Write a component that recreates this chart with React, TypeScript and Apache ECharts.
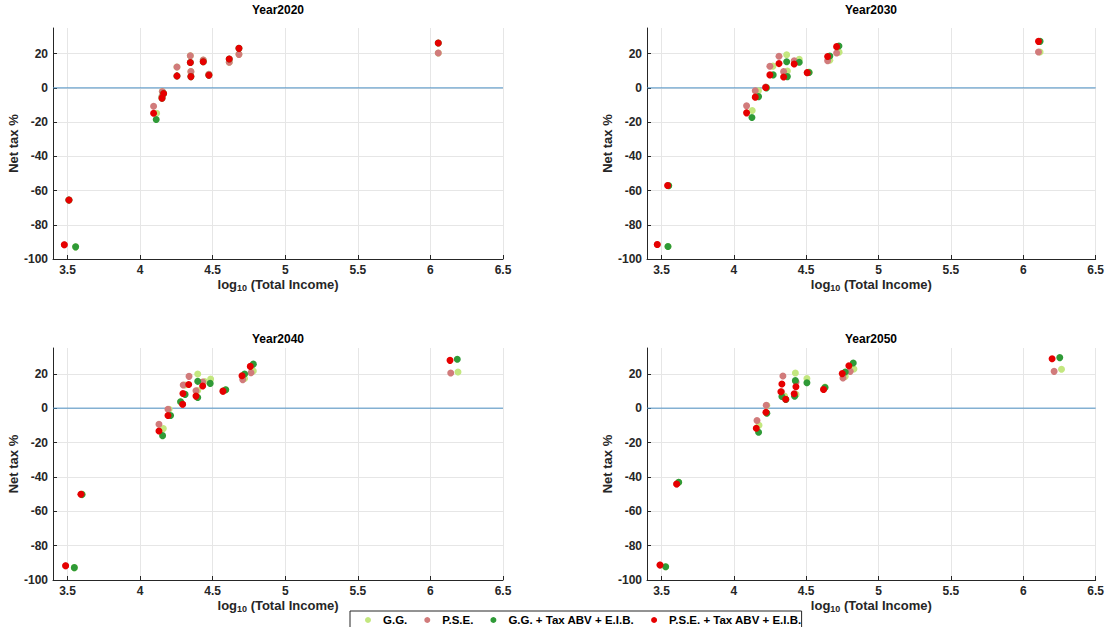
import { useEffect, useRef } from "react";
import * as echarts from "echarts";

const seriesNames = ["G.G.", "P.S.E.", "G.G. + Tax ABV + E.I.B.", "P.S.E. + Tax ABV + E.I.B."];
const seriesColors = ["#c3e77f", "#d17b7b", "#2f9a37", "#e60000"];
const yearTitles = ["Year2020", "Year2030", "Year2040", "Year2050"];
const xTickValues = [3.5, 4, 4.5, 5, 5.5, 6, 6.5];
const yTickValues = [-100, -80, -60, -40, -20, 0, 20];

// Year 2020
const gg2020 = [[3.556, -92.9], [3.51, -65.5], [4.114, -14.8], [4.151, -5], [4.153, -2.1], [4.254, 12.2], [4.346, 18.8], [4.35, 9.5], [4.435, 16.3], [4.474, 8], [4.614, 15], [4.681, 19.6], [6.054, 20.4]];
const pse2020 = [[3.478, -91.7], [3.51, -65.5], [4.093, -10.7], [4.151, -5], [4.153, -2.1], [4.254, 12.2], [4.346, 18.8], [4.35, 9.5], [4.435, 16.3], [4.474, 8], [4.614, 15], [4.681, 19.6], [6.054, 20.4]];
const ggt2020 = [[3.556, -92.9], [3.51, -65.5], [4.111, -18.5], [4.151, -6], [4.162, -3.3], [4.254, 7], [4.346, 14.8], [4.35, 6.6], [4.435, 15.3], [4.474, 7.4], [4.614, 16.9], [4.681, 23.1], [6.054, 26.2]];
const pset2020 = [[3.478, -91.7], [3.51, -65.5], [4.093, -14.8], [4.151, -6], [4.162, -3.3], [4.254, 7], [4.346, 14.8], [4.35, 6.6], [4.435, 15.3], [4.474, 7.4], [4.614, 16.9], [4.681, 23.1], [6.054, 26.2]];

// Year 2030
const gg2030 = [[3.545, -92.7], [3.55, -57], [4.127, -13.2], [4.17, -1.7], [4.225, 0.3], [4.27, 12.7], [4.365, 19.4], [4.37, 9.8], [4.452, 16.7], [4.52, 9.2], [4.663, 16.2], [4.727, 20.9], [6.116, 21]];
const pse2030 = [[3.471, -91.5], [3.543, -57], [4.088, -10.5], [4.148, -1.7], [4.22, 0.5], [4.249, 12.6], [4.312, 18.5], [4.344, 9.5], [4.417, 15.9], [4.507, 9], [4.648, 15.9], [4.71, 20.4], [6.105, 21]];
const ggt2030 = [[3.545, -92.7], [3.55, -57.2], [4.125, -17.3], [4.171, -5.1], [4.225, 0], [4.272, 7.6], [4.365, 15.3], [4.37, 6.6], [4.452, 15], [4.52, 9], [4.663, 18.6], [4.726, 24.5], [6.116, 27.2]];
const pset2030 = [[3.471, -91.5], [3.543, -57], [4.088, -14.6], [4.148, -5.4], [4.22, 0.2], [4.249, 7.6], [4.312, 14.2], [4.344, 6.4], [4.417, 14], [4.507, 8.9], [4.648, 18.3], [4.71, 24.1], [6.105, 27.2]];

// Year 2040
const gg2040 = [[3.547, -92.8], [3.6, -50], [4.16, -11.9], [4.2, -0.6], [4.279, 3.7], [4.31, 13.5], [4.397, 19.9], [4.397, 10.3], [4.445, 15.5], [4.486, 17], [4.59, 10.7], [4.72, 17.2], [4.78, 21.6], [6.19, 21]];
const pse2040 = [[3.487, -91.7], [3.593, -50.1], [4.13, -9.4], [4.192, -0.6], [4.293, 2.3], [4.297, 13.5], [4.337, 18.5], [4.385, 10.1], [4.431, 15.2], [4.571, 9.9], [4.707, 16.6], [4.764, 20.6], [6.14, 20.5]];
const ggt2040 = [[3.547, -92.8], [3.6, -50.3], [4.155, -16], [4.21, -4.3], [4.279, 3.7], [4.31, 8], [4.397, 15.6], [4.397, 6.2], [4.483, 14.4], [4.59, 10.7], [4.72, 19.9], [4.78, 25.6], [6.185, 28.5]];
const pset2040 = [[3.487, -91.7], [3.593, -50.1], [4.13, -13.3], [4.192, -4.3], [4.293, 2.3], [4.295, 8.5], [4.335, 13.8], [4.385, 7], [4.431, 12.9], [4.571, 9.9], [4.702, 18.9], [4.759, 24.3], [6.135, 27.8]];

// Year 2050
const gg2050 = [[3.529, -92.3], [3.619, -43.1], [4.174, -10], [4.228, 1.5], [4.35, 7], [4.425, 20.5], [4.43, 8], [4.505, 17.3], [4.63, 12.3], [4.77, 18.5], [4.83, 22.8], [6.264, 22.6]];
const pse2050 = [[3.49, -91.3], [3.605, -44.1], [4.16, -7.2], [4.224, 1.7], [4.339, 18.7], [4.33, 9.5], [4.43, 15.2], [4.62, 11], [4.754, 17.5], [4.804, 21.4], [6.213, 21.4]];
const ggt2050 = [[3.529, -92.3], [3.619, -43.1], [4.171, -14], [4.228, -2.9], [4.332, 6.8], [4.36, 5], [4.425, 16], [4.42, 6.9], [4.505, 14.8], [4.63, 12], [4.77, 21], [4.825, 26.3], [6.252, 29.4]];
const pset2050 = [[3.49, -91.3], [3.605, -44.1], [4.155, -11.7], [4.222, -2.4], [4.332, 14], [4.325, 9.5], [4.358, 5.2], [4.429, 12.5], [4.417, 8.4], [4.62, 10.9], [4.749, 20.1], [4.795, 24.7], [6.199, 28.7]];

const panelData = [
  [gg2020, pse2020, ggt2020, pset2020],
  [gg2030, pse2030, ggt2030, pset2030],
  [gg2040, pse2040, ggt2040, pset2040],
  [gg2050, pse2050, ggt2050, pset2050],
];

const FONT = "'Liberation Sans', Arial, Helvetica, sans-serif";
const AXIS_COLOR = "#262626";

export default function App() {
  const ref = useRef<HTMLDivElement>(null);

  useEffect(() => {
    if (!ref.current) return;
    const chart = echarts.init(ref.current, null, { renderer: "svg" });

    const grids = [
      { left: 53, top: 28, width: 450, height: 231 },
      { left: 647, top: 28, width: 449, height: 231 },
      { left: 53, top: 348, width: 450, height: 232 },
      { left: 647, top: 348, width: 449, height: 232 },
    ];

    const xAxes = grids.map((_, i) => ({
      type: "value",
      gridIndex: i,
      min: 3.4,
      max: 6.5,
      axisLine: { show: true, onZero: false, lineStyle: { color: AXIS_COLOR, width: 1 } },
      axisTick: { show: true, inside: true, length: 4, customValues: xTickValues, lineStyle: { color: AXIS_COLOR } },
      axisLabel: {
        customValues: xTickValues,
        color: AXIS_COLOR,
        fontWeight: "bold",
        fontSize: 12,
        fontFamily: FONT,
        margin: 5,
        formatter: (v: number) => String(v),
      },
      splitLine: { show: true, lineStyle: { color: "#e6e6e6", width: 1 } },
      name: "log{sub|10} (Total Income)",
      nameLocation: "middle",
      nameGap: 17,
      nameTextStyle: {
        color: AXIS_COLOR,
        fontWeight: "bold",
        fontSize: 13,
        fontFamily: FONT,
        rich: {
          sub: { fontSize: 9, fontWeight: "bold", fontFamily: FONT, color: AXIS_COLOR, verticalAlign: "bottom", padding: [7, 0, 0, 0] },
        },
      },
    }));

    const yAxes = grids.map((_, i) => ({
      type: "value",
      gridIndex: i,
      min: -100,
      max: 35,
      interval: 20,
      axisLine: { show: true, onZero: false, lineStyle: { color: AXIS_COLOR, width: 1 } },
      axisTick: { show: true, inside: true, length: 4, customValues: yTickValues, lineStyle: { color: AXIS_COLOR } },
      axisLabel: {
        customValues: yTickValues,
        color: AXIS_COLOR,
        fontWeight: "bold",
        fontSize: 12,
        fontFamily: FONT,
        margin: 5,
      },
      splitLine: { show: true, lineStyle: { color: "#e6e6e6", width: 1 } },
      name: "Net tax %",
      nameLocation: "middle",
      nameGap: 30,
      nameTextStyle: { color: AXIS_COLOR, fontWeight: "bold", fontSize: 13, fontFamily: FONT },
    }));

    const series: any[] = [];
    grids.forEach((_, i) => {
      series.push({
        type: "line",
        xAxisIndex: i,
        yAxisIndex: i,
        data: [[3.4, 0], [6.5, 0]],
        symbol: "none",
        silent: true,
        lineStyle: { color: "#4f93c6", width: 1 },
        z: 2,
      });
      panelData[i].forEach((d, k) => {
        series.push({
          type: "scatter",
          name: seriesNames[k],
          xAxisIndex: i,
          yAxisIndex: i,
          data: d,
          symbol: "circle",
          symbolSize: 7,
          itemStyle: { color: seriesColors[k], opacity: 1 },
          z: 3 + k,
        });
      });
    });

    const titleCenters = [
      [278, 10],
      [871, 10],
      [278, 339],
      [871, 339],
    ];

    chart.setOption({
      animation: false,
      backgroundColor: "#ffffff",
      grid: grids,
      xAxis: xAxes,
      yAxis: yAxes,
      series,
      legend: {
        data: seriesNames,
        left: 350,
        top: 611,
        orient: "horizontal",
        icon: "circle",
        itemWidth: 20,
        itemHeight: 6,
        itemGap: 17,
        padding: [3, 0, 3, 15],
        borderColor: AXIS_COLOR,
        borderWidth: 1,
        borderRadius: 0,
        backgroundColor: "#ffffff",
        textStyle: { color: "#000000", fontWeight: "bold", fontSize: 11.5, lineHeight: 12, fontFamily: FONT },
      },
      graphic: yearTitles.map((t, i) => ({
        type: "text",
        x: titleCenters[i][0],
        y: titleCenters[i][1],
        style: {
          text: t,
          fill: "#000000",
          font: `bold 12px ${FONT}`,
          textAlign: "center",
          textVerticalAlign: "middle",
        },
      })),
    });

    return () => {
      chart.dispose();
    };
  }, []);

  return (
    <div
      ref={ref}
      style={{ position: "absolute", left: 0, top: 0, width: 1107, height: 627, background: "#ffffff" }}
    />
  );
}
